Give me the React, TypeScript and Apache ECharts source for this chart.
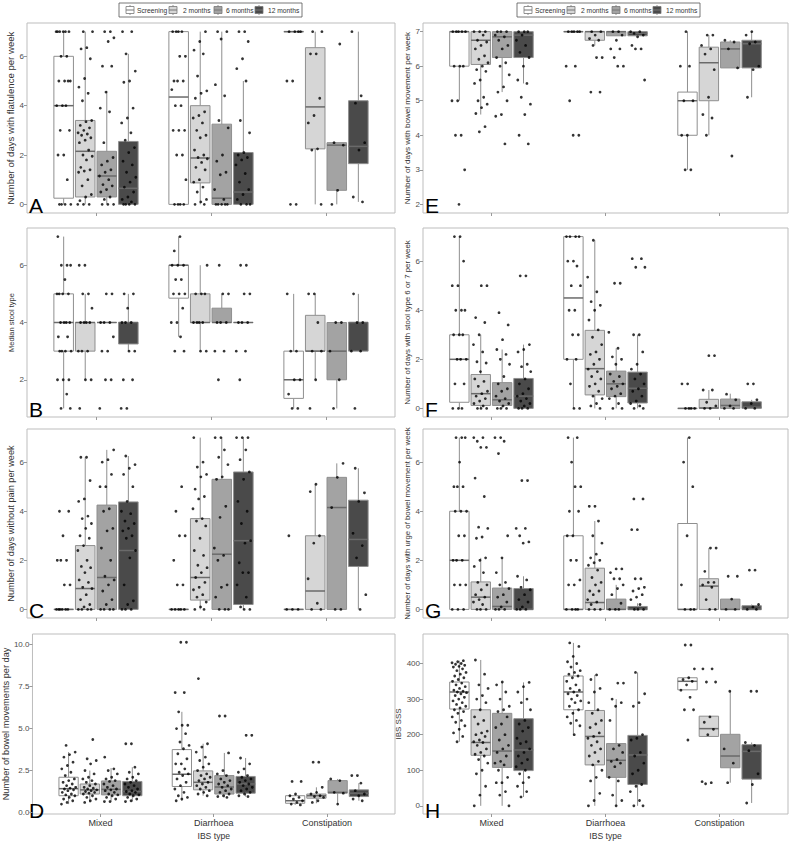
import React, { useEffect, useRef } from "react";
import * as echarts from "echarts";

const groups = ["Mixed", "Diarrhoea", "Constipation"];
const times = ["Screening", "2 months", "6 months", "12 months"];
const timeFill = ["#ffffff", "#d6d6d6", "#a3a3a3", "#4a4a4a"];

// boxes: [whiskerLow, Q1, median, Q3, whiskerHigh]; order: Mixed(Scr,2m,6m,12m), Diarrhoea(...), Constipation(...)
const flatBoxes = [
  [0, 0.25, 4, 6, 7], [0, 0.3, 2.15, 3.4, 7], [0, 0.3, 1.15, 2.15, 4.6], [0, 0, 0.65, 2.55, 6.1],
  [0, 0, 4.35, 7, 7], [0, 0.87, 1.88, 4, 7], [0, 0, 0.25, 3.25, 7], [0, 0, 0.5, 2.1, 5],
  [7, 7, 7, 7, 7], [0, 2.25, 3.95, 6.35, 7], [0, 0.57, 2.4, 2.5, 2.5], [0.1, 1.65, 2.35, 4.2, 7],
];
const flatPts = [
  [7, 7, 7, 7, 7, 7, 6, 6, 5, 5, 5, 5, 4, 4, 4, 3, 3, 2, 2, 1, 0, 0, 0, 0],
  [7, 7, 6.35, 6.3, 5.9, 5.1, 4.75, 4.5, 4.2, 3.4, 3.35, 3.2, 3.1, 3.0, 2.9, 2.85, 2.8, 2.7, 2.6, 2.5, 2.2, 2.0, 1.95, 1.8, 1.5, 1.4, 1.35, 1.3, 1.0, 0.75, 0.4, 0.3, 0.15, 0, 0, 0],
  [7, 7, 6.75, 6.6, 5.6, 5.6, 4.55, 3.9, 3.75, 2.5, 1.9, 1.75, 1.6, 1.4, 1.3, 1.15, 1.0, 0.8, 0.75, 0.6, 0.5, 0.3, 0.2, 0, 0, 0],
  [7, 7, 6.1, 5.4, 5.0, 4.95, 3.9, 3.5, 3.3, 2.9, 2.6, 2.3, 2.1, 1.75, 1.6, 1.3, 1.1, 0.9, 0.7, 0.5, 0.3, 0.2, 0.1, 0, 0, 0, 0],
  [7, 7, 7, 7, 6, 6, 5, 5, 5, 4.65, 4, 4, 3, 3, 3, 2, 2, 1, 0, 0, 0, 0],
  [7, 6.6, 6.25, 6.1, 5.2, 4.6, 4.5, 4.3, 3.75, 3.6, 3.5, 3.3, 3.0, 2.8, 2.7, 2.2, 2.0, 1.9, 1.85, 1.7, 1.5, 1.4, 1.0, 0.9, 0.7, 0.5, 0.2, 0.1, 0, 0],
  [7, 7, 6.7, 4.85, 4.4, 3.4, 3.1, 2.0, 1.75, 1.3, 1.2, 0.6, 0.2, 0, 0, 0, 0, 0],
  [7, 7, 6.6, 5.9, 5.5, 5.0, 3.4, 2.9, 2.1, 2.0, 1.9, 1.8, 1.6, 1.25, 0.9, 0.6, 0.4, 0.2, 0, 0, 0],
  [7, 7, 7, 7, 5, 5, 0, 0],
  [7, 7, 6.1, 6.1, 4.3, 3.6, 3.3, 2.25, 2.2, 0],
  [6.5, 2.5, 2.4, 0.57, 0],
  [7, 4.4, 4.1, 2.5, 2.2, 0.3, 0.1],
];

const stoolBoxes = [
  [1, 3, 4, 5, 7], [2, 3, 4, 4, 5], [4, 4, 4, 4, 4], [3, 3.25, 4, 4, 5],
  [3.5, 4.85, 6, 6, 7], [3, 4, 4, 5, 6], [4, 4, 4, 4.5, 5], [4, 4, 4, 4, 4],
  [1, 1.35, 2, 3, 5], [2, 3, 3, 4.25, 5], [1, 2, 3, 4, 4], [3, 3, 4, 4, 5],
];
const stoolPts = [
  [7, 6, 6, 6, 5.5, 5, 5, 5, 5, 4, 4, 4, 4, 3.5, 3.5, 3, 3, 3, 3, 2, 2, 2, 1.5, 1, 1],
  [6, 6, 5, 5, 4.5, 4, 4, 4, 4, 3, 3, 3, 2, 2, 1],
  [5, 5, 4, 4, 4, 3.5, 3, 3, 2, 2, 1],
  [5, 5, 4.5, 4, 4, 4, 3, 3, 2, 2, 1, 1],
  [7, 6.5, 6, 6, 6, 5.5, 5.5, 5, 5, 5, 4.5, 4, 4, 3.5, 3, 3],
  [6, 5, 5, 5, 4, 4, 4, 4, 3, 3],
  [6, 5, 5, 4, 4, 4, 3, 3, 2],
  [6, 6, 5, 5, 4, 4, 4, 3, 3, 2],
  [5, 3, 3, 2, 2, 1.5, 1, 1],
  [5, 5, 4, 3, 3, 2, 1],
  [4, 4, 3, 2, 1],
  [5, 4, 4, 3, 3, 1],
];

const painBoxes = [
  [0, 0, 0, 0, 0], [0, 0, 0.85, 2.6, 6.2], [0, 0, 1.3, 4.25, 6.5], [0, 0, 2.4, 4.38, 6.25],
  [0, 0, 0, 0, 0], [0, 0.38, 1.3, 3.7, 7], [0, 0, 2.25, 5.3, 7], [0, 0.2, 2.8, 5.6, 7],
  [0, 0, 0, 0, 0], [0, 0, 0.75, 3, 5.1], [0, 0, 4.15, 5.38, 5.95], [0, 1.75, 2.85, 4.45, 5.75],
];
const painPts = [
  [4, 4, 3, 2, 2, 2, 1, 1, 0, 0, 0, 0, 0, 0],
  [6.2, 6.2, 5.25, 4.5, 4.4, 3.8, 3.7, 3.5, 3.3, 3.0, 2.9, 2.6, 2.4, 2.0, 1.75, 1.7, 1.5, 1.2, 1.1, 0.9, 0.85, 0.6, 0.4, 0.2, 0.1, 0, 0, 0, 0],
  [6.5, 6.1, 6.0, 5.5, 5.0, 5.0, 4.1, 4.0, 3.3, 3.2, 2.5, 2.0, 1.35, 1.2, 1.0, 0.75, 0.4, 0.2, 0, 0, 0, 0],
  [6.25, 5.9, 5.75, 5.5, 5.0, 4.4, 4.0, 3.9, 3.6, 3.5, 3.3, 3.2, 3.0, 2.9, 2.4, 2.1, 1.0, 0.35, 0.2, 0, 0, 0],
  [5, 4, 3, 3, 2, 1, 1, 0, 0, 0, 0, 0],
  [7, 6, 5.8, 5.5, 5.4, 4.9, 4.6, 4.5, 4.1, 3.7, 3.6, 3.4, 2.9, 2.4, 2.2, 1.8, 1.7, 1.5, 1.3, 1.1, 0.9, 0.8, 0.6, 0.5, 0.3, 0.1, 0, 0],
  [7, 7, 6.5, 6.2, 5.9, 5.4, 5.3, 4.2, 3.75, 2.5, 2.2, 2.0, 1.0, 0.9, 0.5, 0, 0, 0],
  [7, 7, 7, 6.5, 6.1, 5.6, 5.3, 4.4, 4.0, 3.5, 2.8, 2.7, 1.9, 1.5, 1.5, 1.0, 0.5, 0.1, 0, 0],
  [3, 0, 0, 0],
  [5.1, 4.8, 3.0, 2.7, 1.25, 0.25, 0, 0],
  [5.95, 5.38, 4.15, 0, 0],
  [5.75, 4.75, 4.4, 3.1, 2.6, 2.1, 0.6, 0],
];

const bmBoxes = [
  [0.5, 1.0, 1.42, 2.1, 3.6], [0.6, 1.1, 1.35, 1.7, 2.5], [0.65, 1.05, 1.38, 1.88, 2.65], [0.65, 1.0, 1.25, 1.85, 2.7],
  [0.7, 1.55, 2.28, 3.75, 6.0], [1.0, 1.35, 1.8, 2.48, 4.1], [0.9, 1.1, 1.52, 2.2, 3.55], [0.95, 1.15, 1.7, 2.15, 3.25],
  [0.45, 0.55, 0.7, 1.0, 1.1], [0.55, 0.85, 1.0, 1.1, 1.5], [0.5, 1.15, 1.2, 1.9, 2.0], [0.7, 0.95, 1.15, 1.35, 1.75],
];
const bmPts = [
  [4.0, 3.6, 3.45, 3.3, 3.0, 2.8, 2.6, 2.4, 2.2, 2.0, 1.9, 1.8, 1.7, 1.6, 1.5, 1.45, 1.4, 1.35, 1.3, 1.2, 1.1, 1.05, 1.0, 0.9, 0.8, 0.7, 0.6, 0.5],
  [4.35, 3.2, 3.1, 2.9, 2.5, 2.3, 2.1, 2.0, 1.9, 1.8, 1.7, 1.6, 1.5, 1.45, 1.4, 1.35, 1.3, 1.25, 1.2, 1.15, 1.1, 1.0, 0.9, 0.8, 0.7, 0.6],
  [3.3, 2.6, 2.5, 2.3, 2.1, 2.0, 1.9, 1.85, 1.7, 1.6, 1.5, 1.4, 1.35, 1.3, 1.2, 1.1, 1.05, 1.0, 0.9, 0.8, 0.65, 0.65],
  [4.1, 4.1, 2.7, 2.4, 2.3, 2.1, 2.0, 1.9, 1.8, 1.7, 1.6, 1.5, 1.4, 1.3, 1.25, 1.2, 1.1, 1.05, 1.0, 0.9, 0.8, 0.7, 0.65],
  [10.15, 10.15, 7.15, 7.15, 6.0, 5.2, 5.2, 5.0, 4.7, 4.2, 4.0, 3.8, 3.5, 3.2, 2.9, 2.9, 2.6, 2.4, 2.3, 2.2, 2.0, 1.8, 1.6, 1.4, 1.2, 1.0, 0.9, 0.8, 0.7],
  [7.98, 4.1, 3.9, 3.6, 3.3, 3.1, 2.9, 2.7, 2.5, 2.3, 2.2, 2.1, 2.0, 1.9, 1.8, 1.7, 1.6, 1.5, 1.4, 1.3, 1.2, 1.1, 1.0],
  [5.75, 5.75, 3.55, 2.5, 2.3, 2.2, 2.0, 1.9, 1.8, 1.7, 1.6, 1.5, 1.4, 1.3, 1.2, 1.1, 1.0, 0.95, 0.9],
  [4.6, 4.6, 3.25, 2.9, 2.6, 2.4, 2.2, 2.1, 2.0, 1.9, 1.8, 1.7, 1.6, 1.5, 1.4, 1.3, 1.2, 1.1, 1.0, 0.95],
  [1.85, 1.85, 1.1, 1.0, 0.9, 0.8, 0.7, 0.6, 0.5, 0.45],
  [3.0, 3.0, 1.5, 1.2, 1.1, 1.0, 0.95, 0.9, 0.7, 0.6],
  [2.0, 1.9, 1.2, 1.15, 0.5],
  [2.2, 2.2, 1.75, 1.3, 1.1, 1.0, 0.8, 0.7],
];

const bmwBoxes = [
  [5, 6, 7, 7, 7], [4.6, 6.05, 6.75, 7, 7], [5.25, 6.25, 6.85, 7, 7], [5.5, 6.25, 6.9, 7, 7],
  [7, 7, 7, 7, 7], [6.6, 6.75, 7, 7, 7], [6.88, 6.88, 7, 7, 7], [6.88, 6.88, 6.95, 7, 7],
  [3, 4, 5, 5.25, 7], [4, 5, 6.1, 6.55, 6.9], [5.95, 5.95, 6.5, 6.7, 6.75], [5.1, 5.95, 6.65, 6.75, 7],
];
const bmwPts = [
  [7, 7, 7, 7, 7, 6, 6, 6, 5, 5, 4, 4, 3, 2],
  [7, 7, 7, 6.9, 6.75, 6.7, 6.6, 6.5, 6.3, 6.2, 6.1, 6.0, 5.9, 5.85, 5.6, 5.5, 5.1, 5.0, 4.9, 4.8, 4.63, 4.25, 4.1],
  [7, 7, 7, 6.9, 6.85, 6.75, 6.6, 6.5, 6.25, 6.1, 6.0, 5.75, 5.4, 5.25, 5.0, 4.6, 4.55, 3.75],
  [7, 7, 7, 6.9, 6.75, 6.6, 6.4, 6.25, 6.0, 5.6, 5.5, 5.1, 4.9, 4.6, 4.0, 3.75],
  [7, 7, 7, 7, 7, 6, 6, 5, 4, 4],
  [7, 7, 6.9, 6.8, 6.75, 6.6, 6.25, 6.25, 5.25, 5.25],
  [7, 7, 6.9, 6.75, 6.5, 6.5, 6.25, 6.0, 6.0],
  [7, 7, 6.95, 6.9, 6.85, 6.6, 6.5, 6.5, 5.6],
  [7, 6, 6, 5, 5, 4, 4, 3, 3],
  [6.9, 6.9, 6.6, 6.5, 6.35, 5.9, 5.1, 4.6, 4.5, 4.0],
  [6.75, 6.7, 6.5, 5.95, 3.4],
  [7, 6.9, 6.7, 6.65, 6.0, 5.9, 5.1],
];

const s67Boxes = [
  [0, 0.25, 2, 3, 7], [0, 0.12, 0.6, 1.38, 3], [0, 0.12, 0.35, 1.05, 2.4], [0, 0, 0.5, 1.22, 2.6],
  [0, 2, 4.5, 7, 7], [0, 0.55, 1.62, 3.18, 6.85], [0, 0.48, 1.0, 1.52, 2.45], [0, 0.22, 0.82, 1.48, 3.0],
  [0, 0, 0, 0, 0], [0, 0, 0.02, 0.37, 0.75], [0, 0, 0.12, 0.38, 0.6], [0, 0, 0.05, 0.27, 0.35],
];
const s67Pts = [
  [7, 7, 6, 5, 5, 4, 4, 4, 3, 3, 3, 2, 2, 2, 1, 1, 0, 0, 0],
  [5, 5, 3.7, 3.5, 3.0, 2.6, 2.3, 1.9, 1.85, 1.5, 1.2, 1.1, 0.9, 0.7, 0.6, 0.5, 0.4, 0.3, 0.2, 0.1, 0, 0, 0],
  [3.9, 3.4, 2.8, 2.4, 2.2, 2.0, 1.8, 1.3, 1.0, 0.8, 0.7, 0.5, 0.4, 0.3, 0.2, 0.1, 0, 0, 0],
  [5.4, 5.4, 2.6, 2.4, 2.3, 1.8, 1.7, 1.5, 1.2, 1.0, 0.8, 0.6, 0.5, 0.4, 0.3, 0.2, 0.1, 0, 0, 0],
  [7, 7, 7, 7, 6, 6, 5.8, 5, 5, 4, 4, 3, 3, 2, 2, 1, 0, 0],
  [6.85, 5.35, 4.75, 4.35, 4.2, 4.0, 3.6, 3.2, 2.9, 2.6, 2.3, 2.2, 2.0, 1.8, 1.6, 1.5, 1.3, 1.2, 1.0, 0.9, 0.7, 0.5, 0.4, 0.2, 0.1, 0],
  [5.1, 5.1, 3.1, 2.45, 2.1, 2.0, 1.8, 1.4, 1.3, 1.1, 1.0, 0.9, 0.8, 0.6, 0.5, 0.4, 0.2, 0, 0],
  [6.1, 6.1, 5.75, 5.75, 3.0, 3.0, 2.3, 1.8, 1.6, 1.4, 1.2, 1.0, 0.8, 0.7, 0.5, 0.3, 0.2, 0.1, 0, 0],
  [1, 1, 0, 0, 0, 0],
  [2.15, 2.15, 0.75, 0.75, 0.25, 0.1, 0, 0],
  [0.58, 0.35, 0.1, 0, 0],
  [1, 1, 0.35, 0.2, 0, 0],
];

const urgeBoxes = [
  [0, 0, 2, 4, 7], [0, 0, 0.5, 1.12, 2.1], [0, 0, 0.12, 0.87, 2.1], [0, 0, 0, 0.85, 1.35],
  [0, 0, 0, 3, 7], [0, 0, 0.28, 1.68, 3.6], [0, 0, 0, 0.42, 1.0], [0, 0, 0, 0.12, 0.25],
  [0, 0, 0, 3.5, 7], [0, 0, 0.95, 1.25, 2.5], [0, 0, 0, 0.42, 0.42], [0, 0, 0, 0.15, 0.2],
];
const urgePts = [
  [7, 7, 7, 6, 5, 5, 5, 4, 4, 4, 3, 3, 2, 2, 2, 1, 1, 1, 0, 0, 0],
  [7, 7, 6.85, 6.6, 6.6, 5.35, 4.6, 3.35, 3.3, 2.95, 2.9, 2.1, 2.0, 1.75, 1.5, 1.1, 1.0, 0.8, 0.6, 0.5, 0.4, 0.3, 0.2, 0, 0, 0],
  [7, 7, 6.85, 6.35, 3.0, 2.1, 1.5, 1.1, 1.0, 0.85, 0.6, 0.5, 0.3, 0.1, 0, 0, 0],
  [5.25, 5.25, 3.3, 3.3, 3.0, 2.75, 2.7, 1.35, 1.2, 0.9, 0.8, 0.6, 0.4, 0.3, 0.1, 0, 0, 0],
  [7, 7, 6, 5, 5, 4, 4, 3, 3, 2, 2, 1.2, 1, 1, 0, 0, 0, 0],
  [4.2, 4.2, 3.6, 3.0, 2.7, 2.25, 2.1, 2.0, 1.9, 1.8, 1.6, 1.3, 1.1, 1.0, 0.75, 0.75, 0.6, 0.4, 0.3, 0.2, 0, 0, 0],
  [1.65, 1.65, 1.5, 1.25, 1.25, 1.0, 0.85, 0.6, 0.25, 0, 0, 0],
  [4.5, 4.5, 3.25, 3.25, 1.25, 1.25, 0.9, 0.85, 0.75, 0.6, 0.5, 0.4, 0.2, 0, 0, 0],
  [7, 6, 5, 3, 1, 0, 0, 0],
  [2.5, 2.5, 1.55, 1.1, 1.1, 1.0, 0.9, 0.4, 0, 0],
  [1.35, 1.35, 0.42, 0, 0],
  [1.6, 1.6, 0.2, 0.1, 0, 0],
];

const sssBoxes = [
  [180, 272, 320, 348, 408], [0, 142, 178, 270, 410], [0, 108, 154, 260, 348], [25, 99, 157, 245, 347],
  [200, 270, 320, 365, 458], [0, 115, 195, 268, 368], [0, 80, 128, 175, 300], [0, 60, 143, 198, 375],
  [326, 326, 350, 360, 360], [195, 195, 217, 252, 252], [65, 107, 140, 201, 322], [8, 75, 153, 172, 178],
];
const sssPts = [
  [408, 405, 402, 400, 398, 395, 392, 390, 385, 380, 375, 370, 365, 360, 355, 350, 345, 340, 335, 330, 325, 322, 320, 318, 315, 310, 305, 300, 295, 290, 285, 280, 275, 270, 265, 260, 250, 240, 235, 225, 215, 205, 195, 180],
  [410, 370, 340, 330, 310, 300, 290, 270, 250, 240, 230, 210, 205, 200, 195, 185, 180, 178, 170, 160, 150, 145, 140, 130, 120, 100, 90, 55, 30, 0],
  [348, 340, 320, 300, 280, 270, 265, 250, 230, 220, 200, 185, 170, 160, 150, 140, 125, 120, 115, 100, 80, 65, 65, 40, 30, 0],
  [347, 335, 320, 300, 290, 270, 240, 230, 220, 210, 190, 180, 175, 160, 150, 140, 130, 120, 110, 100, 90, 80, 65, 55, 40, 25],
  [458, 448, 420, 405, 400, 390, 380, 375, 370, 365, 360, 350, 340, 330, 325, 320, 315, 310, 300, 295, 290, 280, 270, 260, 250, 240, 232, 225, 200],
  [368, 355, 330, 320, 290, 270, 260, 240, 230, 220, 205, 195, 190, 180, 170, 160, 150, 140, 125, 115, 100, 80, 70, 35, 15, 0],
  [345, 345, 300, 290, 280, 240, 170, 160, 150, 130, 125, 120, 110, 80, 70, 30, 15, 0],
  [375, 315, 290, 280, 200, 190, 185, 150, 140, 120, 100, 90, 60, 55, 40, 15, 0, 0],
  [452, 452, 385, 360, 355, 350, 340, 325, 305, 270, 270, 185],
  [385, 385, 348, 348, 250, 235, 215, 200, 68, 65, 62],
  [322, 160, 120, 65],
  [322, 322, 178, 170, 155, 90, 60, 8],
];

const panelLetters = ["A", "B", "C", "D", "E", "F", "G", "H"];
const yTitles = [
  "Number of days with flatulence per week",
  "Median stool type",
  "Number of days without pain per week",
  "Number of bowel movements per day",
  "Number of days with bowel movement per week",
  "Number of days with stool type 6 or 7 per week",
  "Number of days with urge of bowel movement per week",
  "IBS SSS",
];
const yMin = [-0.35, 0.7, -0.35, -0.09, 1.75, -0.35, -0.35, -23];
const yMax = [7.35, 7.3, 7.35, 10.64, 7.25, 7.35, 7.35, 483];
const yTicks = [
  [0, 2, 4, 6], [2, 4, 6], [0, 2, 4, 6], [0, 2.5, 5, 7.5, 10],
  [2, 3, 4, 5, 6, 7], [0, 2, 4, 6], [0, 2, 4, 6], [0, 100, 200, 300, 400],
];
const xTitle = "IBS type";

const allBoxes = [flatBoxes, stoolBoxes, painBoxes, bmBoxes, bmwBoxes, s67Boxes, urgeBoxes, sssBoxes];
const allPts = [flatPts, stoolPts, painPts, bmPts, bmwPts, s67Pts, urgePts, sssPts];

// layout (px)
const colLeft = [27, 423];
const colWidth = [368, 365];
const rowTop = [23, 228, 429, 634];
const rowHeight = [190, 189, 189, 184];
const nameGaps = [10, 11, 10, 20, 8, 8, 12, 17];
const titleSizes = [9.6, 7.5, 9.2, 9.2, 8.1, 7.9, 7.8, 8];
const FONT = "'Liberation Sans', Arial, Helvetica, sans-serif";
const DODGE = 0.1875;
const BOXW = 0.17;
const JIT = 0.13;

function legendEls(x0: number) {
  const els: any[] = [
    { type: "rect", shape: { x: x0, y: 3, width: 183, height: 14 }, style: { fill: "#fff", stroke: "#555", lineWidth: 0.8 } },
  ];
  const iconX = [11, 54, 99, 140];
  const textX = [18, 64, 107, 149];
  times.forEach((t, i) => {
    const cx = x0 + iconX[i];
    els.push({ type: "line", shape: { x1: cx, y1: 5, x2: cx, y2: 15 }, style: { stroke: "#777", lineWidth: 0.8 } });
    els.push({ type: "rect", shape: { x: cx - 4, y: 6.5, width: 8, height: 7 }, style: { fill: timeFill[i], stroke: "#777", lineWidth: 0.8 } });
    els.push({ type: "line", shape: { x1: cx - 4, y1: 10, x2: cx + 4, y2: 10 }, style: { stroke: "#777", lineWidth: 1 } });
    els.push({ type: "text", x: x0 + textX[i], y: 10.5, style: { text: t, fontSize: 6.7, fontFamily: FONT, fill: "#333", verticalAlign: "middle", align: "left" } });
  });
  return els;
}

export default function App() {
  const ref = useRef<HTMLDivElement>(null);
  useEffect(() => {
    const chart = echarts.init(ref.current as HTMLDivElement, null, { renderer: "svg" });
    const grid: any[] = [];
    const xAxis: any[] = [];
    const yAxis: any[] = [];
    const series: any[] = [];
    const graphic: any[] = [...legendEls(119), ...legendEls(517)];

    allBoxes.forEach((boxes, i) => {
      const col = i < 4 ? 0 : 1;
      const row = i % 4;
      grid.push({
        left: colLeft[col], top: rowTop[row], width: colWidth[col], height: rowHeight[row],
        show: true, borderColor: "#bdbdbd", borderWidth: 1, backgroundColor: "transparent",
      });
      xAxis.push({
        gridIndex: i, type: "value", min: 0.4, max: 3.6,
        axisLine: { show: false, onZero: false },
        splitLine: { show: false },
        axisTick: { show: true, customValues: [1, 2, 3], length: 3, lineStyle: { color: "#999" } },
        axisLabel: {
          show: row === 3, customValues: [1, 2, 3], fontSize: 9, color: "#333", fontFamily: FONT, margin: 4,
          formatter: (v: number) => groups[Math.round(v) - 1] || "",
        },
        name: row === 3 ? xTitle : "", nameLocation: "middle", nameGap: 17,
        nameTextStyle: { fontSize: 8.6, color: "#333", fontFamily: FONT },
      });
      yAxis.push({
        gridIndex: i, type: "value", min: yMin[i], max: yMax[i],
        axisLine: { show: false, onZero: false },
        splitLine: { show: false },
        axisTick: { show: true, customValues: yTicks[i], length: 3, lineStyle: { color: "#999" } },
        axisLabel: {
          customValues: yTicks[i], fontSize: 8, color: "#4d4d4d", fontFamily: FONT, margin: 3,
          formatter: (v: number) => (i === 3 ? v.toFixed(1) : String(v)),
        },
        name: yTitles[i], nameLocation: "middle", nameGap: nameGaps[i],
        nameTextStyle: { fontSize: titleSizes[i], color: "#333", fontFamily: FONT },
      });
      const boxData = boxes.map((b, k) => {
        const g = Math.floor(k / 4);
        const t = k % 4;
        return [g + 1 + (t - 1.5) * DODGE, b[0], b[1], b[2], b[3], b[4], t];
      });
      series.push({
        type: "custom", xAxisIndex: i, yAxisIndex: i, z: 2, silent: true,
        data: boxData,
        encode: { x: 0, y: [1, 2, 3, 4, 5] },
        renderItem: (params: any, api: any) => {
          const x = api.value(0);
          const lo = api.coord([x, api.value(1)]);
          const q1 = api.coord([x, api.value(2)]);
          const md = api.coord([x, api.value(3)]);
          const q3 = api.coord([x, api.value(4)]);
          const hi = api.coord([x, api.value(5)]);
          const t = api.value(6);
          const w = api.size([BOXW, 0])[0];
          const cx = lo[0];
          return {
            type: "group",
            children: [
              { type: "line", shape: { x1: cx, y1: lo[1], x2: cx, y2: q1[1] }, style: { stroke: "#8f8f8f", lineWidth: 1 } },
              { type: "line", shape: { x1: cx, y1: q3[1], x2: cx, y2: hi[1] }, style: { stroke: "#8f8f8f", lineWidth: 1 } },
              { type: "rect", shape: { x: cx - w / 2, y: q3[1], width: w, height: Math.max(q1[1] - q3[1], 0) }, style: { fill: timeFill[t], stroke: "#8f8f8f", lineWidth: 1 } },
              { type: "line", shape: { x1: cx - w / 2, y1: md[1], x2: cx + w / 2, y2: md[1] }, style: { stroke: "#6a6a6a", lineWidth: 1.5 } },
            ],
          };
        },
      });
      const pts: number[][] = [];
      allPts[i].forEach((vals, k) => {
        const g = Math.floor(k / 4);
        const t = k % 4;
        const c = g + 1 + (t - 1.5) * DODGE;
        vals.forEach((v, j) => {
          const u = (j * 0.6180339 + k * 0.37 + i * 0.11) % 1;
          pts.push([c + (u - 0.5) * JIT, v]);
        });
      });
      series.push({
        type: "scatter", xAxisIndex: i, yAxisIndex: i, z: 3, silent: true,
        symbol: "circle", symbolSize: 2.8, itemStyle: { color: "#000" },
        data: pts,
      });
      graphic.push({
        type: "text", x: colLeft[col] + 2, y: rowTop[row] + rowHeight[row] + 3,
        style: { text: panelLetters[i], fontSize: 21, fontFamily: FONT, fill: "#000", verticalAlign: "bottom", align: "left" },
      });
    });

    chart.setOption({
      animation: false,
      backgroundColor: "#fff",
      textStyle: { fontFamily: FONT },
      grid, xAxis, yAxis, series, graphic,
    });
    return () => chart.dispose();
  }, []);
  return <div ref={ref} style={{ position: "absolute", left: 0, top: 0, width: 793, height: 841 }} />;
}
